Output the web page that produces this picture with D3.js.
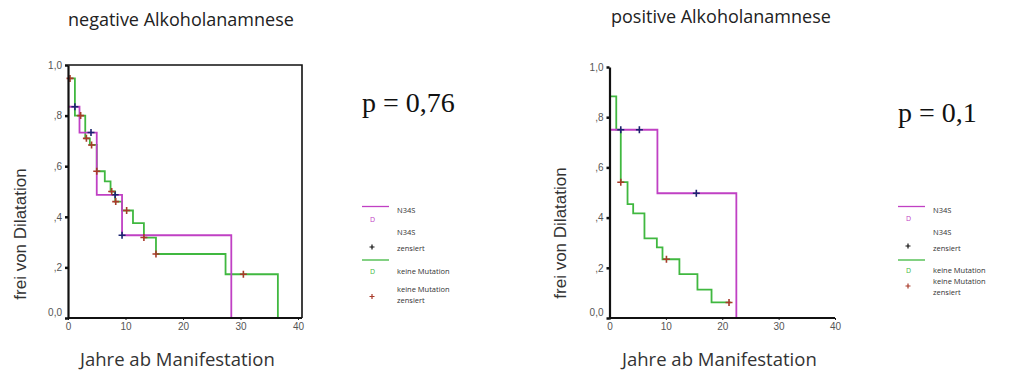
<!DOCTYPE html>
<html>
  <body style="margin:0;background:#fff">
    <style>
      svg { display: block; }
      .tick text { font-family: "Liberation Sans", Arial, sans-serif; font-size: 10px; fill: #555; }
    </style>
    <script src="https://d3js.org/d3.v7.min.js"></script>
    <script type="text/javascript">
      const width = 1016;
      const height = 370;

      const xTicks = [0, 10, 20, 30, 40];
      const yTicks = [0, 0.2, 0.4, 0.6, 0.8, 1];
      const yTickLabels = ['0,0', ',2', ',4', ',6', ',8', '1,0'];

      const panelTitles = ['negative Alkoholanamnese', 'positive Alkoholanamnese'];
      const pValues = ['p = 0,76', 'p = 0,1'];
      const xLabel = 'Jahre ab Manifestation';
      const yLabel = 'frei von Dilatation';
      const legendLabels = ['N34S', 'N34S zensiert', 'keine Mutation', 'keine Mutation zensiert'];

      // [Jahre, Anteil] step points, negative Alkoholanamnese
      const negN34S = [[0, 0.835], [2.0, 0.733], [5.0, 0.487], [9.4, 0.327], [28.4, 0]];
      const negN34SCens = [[1.2, 0.835], [4.0, 0.733], [8.2, 0.487], [9.4, 0.327]];
      const negKeine = [[0, 0.947], [1.2, 0.80], [3.0, 0.71], [3.8, 0.684], [5.0, 0.58], [6.4, 0.54],
        [7.4, 0.50], [8.2, 0.46], [9.4, 0.425], [11.3, 0.375], [13.2, 0.318], [15.3, 0.253],
        [27.4, 0.173], [36.5, 0]];
      const negKeineCens = [[0.35, 0.947], [2.2, 0.80], [3.2, 0.71], [4.1, 0.684], [5.0, 0.58],
        [7.6, 0.50], [8.3, 0.46], [10.2, 0.425], [13.2, 0.318], [15.3, 0.253], [30.5, 0.173]];

      // positive Alkoholanamnese
      const posN34S = [[0, 0.75], [8.5, 0.497], [22.5, 0]];
      const posN34SCens = [[2.0, 0.75], [5.3, 0.75], [15.4, 0.497]];
      const posKeine = [[0, 0.883], [1.2, 0.75], [2.0, 0.541], [3.2, 0.454], [4.2, 0.417], [6.2, 0.317],
        [8.4, 0.281], [9.4, 0.234], [12.4, 0.175], [15.6, 0.113], [18.1, 0.062], [21.5, 0.062]];
      const posKeineCens = [[2.0, 0.541], [10.1, 0.234], [21.2, 0.062]];

      const colN34S = '#c040c4';
      const colKeine = '#40b840';
      const colCensN34S = '#1c2470';
      const colCensKeine = '#a83a2a';

      const svg = d3.select('body')
        .append('svg')
        .attr('width', width)
        .attr('height', height);

      const crossPath = 'M-3.5,0H3.5M0,-3.5V3.5';

      function panel(opts) {
        const xScale = d3.scaleLinear().domain([0, 40]).range(opts.xRange);
        const yScale = d3.scaleLinear().domain([0, 1]).range(opts.yRange);
        const g = svg.append('g');

        // frame (left panel only)
        if (opts.frame) {
          g.append('path')
            .attr('d', `M${opts.xRange[0]},${yScale(1)}H${opts.frameRight}V${yScale(0)}`)
            .attr('fill', 'none')
            .attr('stroke', '#111')
            .attr('stroke-width', 1.6);
        }

        const line = d3.line()
          .x((d) => xScale(d[0]))
          .y((d) => yScale(d[1]))
          .curve(d3.curveStepAfter);

        g.selectAll('path.km')
          .data([{ pts: opts.keine, col: colKeine }, { pts: opts.n34s, col: colN34S }])
          .enter()
          .append('path')
          .attr('class', 'km')
          .attr('d', (d) => line(d.pts))
          .attr('fill', 'none')
          .attr('stroke', (d) => d.col)
          .attr('stroke-width', 1.8);

        g.selectAll('path.cn')
          .data(opts.n34sCens)
          .enter()
          .append('path')
          .attr('class', 'cn')
          .attr('transform', (d) => `translate(${xScale(d[0])},${yScale(d[1])})`)
          .attr('d', crossPath)
          .attr('stroke', colCensN34S)
          .attr('stroke-width', 1.6);

        g.selectAll('path.ck')
          .data(opts.keineCens)
          .enter()
          .append('path')
          .attr('class', 'ck')
          .attr('transform', (d) => `translate(${xScale(d[0])},${yScale(d[1])})`)
          .attr('d', crossPath)
          .attr('stroke', colCensKeine)
          .attr('stroke-width', 1.6);

        const yAxis = g.append('g')
          .attr('transform', `translate(${opts.xRange[0]},0)`)
          .call(d3.axisLeft(yScale).tickValues(yTicks).tickSize(3).tickSizeOuter(0)
            .tickFormat((d, i) => yTickLabels[i]));
        yAxis.select('.domain').attr('stroke', '#111').attr('stroke-width', 2.2);
        yAxis.selectAll('.tick line').attr('stroke', '#111').attr('stroke-width', 2.5);
        yAxis.selectAll('.tick text').attr('x', -6);
        yAxis.selectAll('.tick').filter((d) => d === 0).select('text').attr('dy', '-0.3em');

        const xAxis = g.append('g')
          .attr('transform', `translate(0,${yScale(0)})`)
          .call(d3.axisBottom(xScale).tickValues(xTicks).tickSize(2).tickSizeOuter(0));
        xAxis.select('.domain')
          .attr('d', `M${opts.xRange[0]},0H${opts.frameRight}`)
          .attr('stroke', '#111').attr('stroke-width', 2.2);
        xAxis.selectAll('.tick line').attr('stroke', '#111');
        xAxis.selectAll('.tick text').attr('y', 5);

        svg.append('text')
          .attr('x', opts.titleX)
          .attr('y', opts.titleY)
          .attr('font-family', 'Open Sans')
          .attr('font-size', 18)
          .attr('fill', '#222')
          .text(opts.title);

        svg.append('text')
          .attr('x', opts.xLabelX)
          .attr('y', 366)
          .attr('font-family', 'Open Sans')
          .attr('font-size', 18.5)
          .attr('fill', '#333')
          .text(xLabel);

        svg.append('text')
          .attr('transform', `translate(${opts.yLabelX},${opts.yLabelY}) rotate(-90)`)
          .attr('text-anchor', 'middle')
          .attr('font-family', 'Liberation Sans')
          .attr('font-size', 17)
          .attr('fill', '#333')
          .text(yLabel);

        svg.append('text')
          .attr('x', opts.pX)
          .attr('y', opts.pY)
          .attr('font-family', 'Liberation Serif')
          .attr('font-size', 28)
          .attr('fill', '#111')
          .text(opts.p);

        // legend
        const lg = svg.append('g').attr('transform', `translate(${opts.legX},0)`)
          .attr('font-family', 'Open Sans').attr('font-size', 7.5).attr('fill', '#333');
        const L = opts.leg;
        lg.append('line').attr('x1', 0).attr('x2', 27).attr('y1', L[0]).attr('y2', L[0])
          .attr('stroke', colN34S).attr('stroke-width', 1.3);
        lg.append('text').attr('x', 8).attr('y', L[1] + 3).attr('fill', colN34S).attr('font-size', 7).text('D');
        lg.append('text').attr('x', 35).attr('y', L[0] + 6).text(legendLabels[0]);
        lg.append('path').attr('transform', `translate(10,${L[3]})`).attr('d', 'M-2.5,0H2.5M0,-2.5V2.5')
          .attr('stroke', '#111').attr('stroke-width', 1.2);
        lg.append('text').attr('x', 35).attr('y', L[2] + 3).text('N34S');
        lg.append('text').attr('x', 35).attr('y', L[2] + 19).text('zensiert');
        lg.append('line').attr('x1', 0).attr('x2', 27).attr('y1', L[4]).attr('y2', L[4])
          .attr('stroke', colKeine).attr('stroke-width', 1.3);
        lg.append('text').attr('x', 8).attr('y', L[5] + 3).attr('fill', colKeine).attr('font-size', 7).text('D');
        lg.append('text').attr('x', 35).attr('y', L[5] + 3).text(legendLabels[2]);
        lg.append('path').attr('transform', `translate(10,${L[7]})`).attr('d', 'M-2.5,0H2.5M0,-2.5V2.5')
          .attr('stroke', colCensKeine).attr('stroke-width', 1.2);
        lg.append('text').attr('x', 35).attr('y', L[6] + 3).text('keine Mutation');
        lg.append('text').attr('x', 35).attr('y', L[6] + 14).text('zensiert');
      }

      panel({
        xRange: [68, 298], yRange: [318, 65], frame: true, frameRight: 302,
        n34s: negN34S, n34sCens: negN34SCens, keine: negKeine, keineCens: negKeineCens,
        title: panelTitles[0], titleX: 68, titleY: 26,
        xLabelX: 80, yLabelX: 26, yLabelY: 234,
        p: pValues[0], pX: 362, pY: 112,
        legX: 362, leg: [206.5, 219, 232, 247, 260, 271, 289, 296.5]
      });

      panel({
        xRange: [609.5, 835], yRange: [318, 67], frame: false, frameRight: 835,
        n34s: posN34S, n34sCens: posN34SCens, keine: posKeine, keineCens: posKeineCens,
        title: panelTitles[1], titleX: 611, titleY: 23,
        xLabelX: 622, yLabelX: 566, yLabelY: 233,
        p: pValues[1], pX: 898, pY: 122,
        legX: 898, leg: [206.5, 218, 231.5, 246, 260, 270, 281, 286]
      });
    </script>
  </body>
</html>
